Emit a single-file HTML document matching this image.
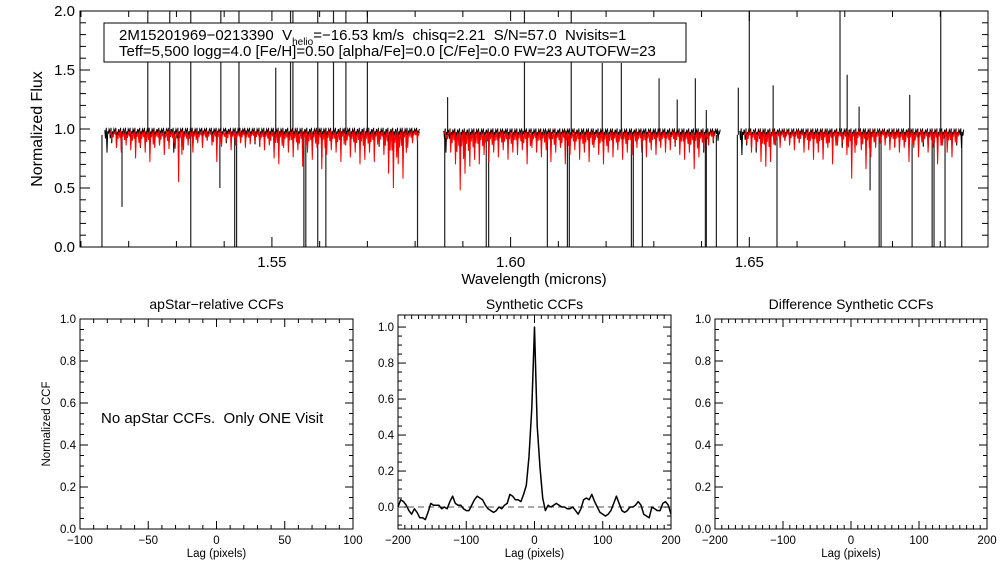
<!DOCTYPE html>
<html><head><meta charset="utf-8"><title>APOGEE spectrum and CCFs</title>
<style>
html,body{margin:0;padding:0;background:#fff;}
svg{display:block;font-family:"Liberation Sans",Arial,sans-serif;}
text{white-space:pre;}
</style></head>
<body>
<svg id="fig" width="1008" height="576" viewBox="0 0 1008 576" xmlns="http://www.w3.org/2000/svg" xml:space="preserve">
<rect x="0" y="0" width="1008" height="576" fill="#fff"/>
<g id="spec"></g>
<g id="p1"></g>
<g id="p2"></g>
<g id="p3"></g>
</svg>
<script>
// ---------- Spectrum data ----------
const chipStart = [1.515, 1.586, 1.648];
const chipHi = [1.00, 0.995, 0.995];
const redHi = [0.975, 0.97, 0.975];
const blackLo1 = [0.80,0.88,0.85,0.82,0.90,0.86,0.88,0.84,0.90,0.87,0.89,0.86,0.91,0.88,0.80,0.90,0.87,0.89,0.85,0.90,0.88,0.91,0.89,0.90,0.92,0.88,0.90,0.86,0.89,0.91,0.90,0.87,0.85,0.88,0.90,0.86,0.84,0.89,0.87,0.83,0.85,0.88,0.86,0.82,0.87,0.85,0.89,0.86,0.84,0.88,0.90,0.85,0.87,0.84,0.80,0.86,0.82,0.85,0.88,0.80,0.76,0.83,0.86,0.88,0.90,0.92];
const redLo1 = [null,0.90,0.84,0.80,0.86,0.82,0.75,0.85,0.80,0.72,0.84,0.86,0.78,0.83,0.88,0.55,0.82,0.86,0.80,0.88,0.84,0.90,0.86,0.72,0.85,0.90,0.82,0.86,0.88,0.84,0.87,0.89,0.85,0.82,0.86,0.75,0.70,0.84,0.80,0.76,0.82,0.68,0.80,0.74,0.84,0.66,0.78,0.82,0.80,0.72,0.86,0.76,0.80,0.70,0.74,0.80,0.72,0.86,0.78,0.62,0.50,0.70,0.58,0.84,0.88,0.90];
const blackLo2 = [0.80,0.86,0.82,0.75,0.80,0.84,0.86,0.88,0.84,0.87,0.89,0.86,0.88,0.90,0.87,0.85,0.89,0.90,0.86,0.88,0.84,0.87,0.90,0.88,0.85,0.88,0.90,0.86,0.88,0.84,0.87,0.85,0.88,0.86,0.84,0.88,0.86,0.83,0.87,0.85,0.88,0.86,0.90,0.88,0.86,0.89,0.87,0.88,0.85,0.87,0.84,0.86,0.82,0.84,0.80,0.86,0.88,0.90];
const redLo2 = [0.92,0.80,0.70,0.48,0.62,0.68,0.74,0.70,0.78,0.72,0.80,0.76,0.82,0.74,0.80,0.78,0.82,0.70,0.84,0.80,0.76,0.82,0.72,0.80,0.84,0.70,0.78,0.82,0.74,0.80,0.72,0.84,0.78,0.70,0.80,0.76,0.82,0.74,0.80,0.78,0.84,0.80,0.76,0.82,0.78,0.84,0.80,0.82,0.86,0.78,0.74,0.80,0.66,0.76,0.82,0.86,0.90,null];
const blackLo3 = [0.78,0.86,0.84,0.80,0.86,0.84,0.82,0.86,0.88,0.90,0.88,0.86,0.89,0.90,0.88,0.87,0.89,0.86,0.88,0.90,0.86,0.84,0.88,0.78,0.86,0.88,0.87,0.89,0.86,0.88,0.90,0.87,0.85,0.88,0.86,0.84,0.87,0.88,0.85,0.84,0.86,0.88,0.86,0.84,0.87,0.86,0.84];
const redLo3 = [null,0.88,0.80,0.84,0.72,0.68,0.72,0.86,0.84,0.90,0.86,0.82,0.88,0.80,0.82,0.74,0.80,0.74,0.84,0.70,0.86,0.88,0.78,0.58,0.86,0.82,0.66,0.76,0.84,0.88,0.86,0.82,0.84,0.80,0.84,0.72,0.84,0.76,0.88,0.80,0.84,0.70,0.86,0.80,0.76,0.88,null];
const spikeUpLam = [1.5240,1.5286,1.5330,1.5393,1.5431,1.5508,1.5539,1.5544,1.5596,1.5629,1.5655,1.5700,1.5868,1.6029,1.6127,1.6192,1.6232,1.6311,1.6349,1.6387,1.6410,1.6477,1.6500,1.6550,1.6690,1.6705,1.6730,1.6836,1.6901];
const spikeUpVal = [2,2,2,2,2,1.52,2,2,2,2,2,2,1.27,2,2,1.56,1.56,1.43,1.25,1.43,1.16,1.35,2,1.37,2,1.46,1.19,1.29,2];
const spikeDnLam = [1.5144,1.5186,1.5330,1.5391,1.5422,1.5426,1.5567,1.5571,1.5596,1.5613,1.5805,1.5862,1.5949,1.5954,1.6077,1.6119,1.6123,1.6253,1.6257,1.6276,1.6408,1.6410,1.6431,1.6475,1.6558,1.6753,1.6772,1.6776,1.6841,1.6883,1.6887,1.6910,1.6945];
const spikeDnVal = [0,0.34,0,0.5,0,0,0,0,0,0,0,0,0,0,0,0,0,0,0,0,0,0,0,0,0,0.48,0,0,0,0,0,0,0];
const specXTicks = [1.55,1.60,1.65];
const specXTickLabels = ["1.55","1.60","1.65"];
const specYTicks = [0,0.5,1.0,1.5,2.0];
const specYTickLabels = ["0.0","0.5","1.0","1.5","2.0"];

// ---------- CCF data ----------
const ccfLag = [-200,-196,-192,-188,-184,-180,-176,-172,-168,-164,-160,-156,-152,-148,-144,-140,-136,-132,-128,-124,-120,-116,-112,-108,-104,-100,-96,-92,-88,-84,-80,-76,-72,-68,-64,-60,-56,-52,-48,-44,-40,-36,-32,-28,-24,-20,-16,-12,-8,-4,0,4,8,12,16,20,24,28,32,36,40,44,48,52,56,60,64,68,72,76,80,84,88,92,96,100,104,108,112,116,120,124,128,132,136,140,144,148,152,156,160,164,168,172,176,180,184,188,192,196,200];
const ccfVal = [0.00,0.04,0.03,0.01,-0.02,-0.04,-0.01,-0.03,-0.06,-0.06,-0.07,-0.03,0.02,0.01,0.01,0.01,-0.01,0.00,-0.01,0.03,0.06,0.02,0.01,0.01,-0.01,-0.02,-0.02,0.01,0.04,0.06,0.05,0.04,0.01,-0.01,-0.02,-0.03,-0.02,0.00,-0.01,0.01,0.02,0.07,0.06,0.04,0.04,0.03,0.07,0.12,0.28,0.55,1.00,0.45,0.22,0.05,-0.02,0.01,0.00,0.01,0.02,0.01,0.00,0.00,-0.01,-0.01,0.00,-0.02,-0.04,-0.01,0.04,0.05,0.04,0.07,0.03,0.00,-0.03,-0.04,-0.05,-0.04,-0.02,0.02,0.06,0.02,-0.02,-0.03,-0.02,0.00,0.00,0.01,0.03,0.01,-0.04,-0.05,-0.06,0.00,-0.01,-0.02,-0.02,0.02,0.03,0.01,-0.04];
const ccfYTicks = [0,0.2,0.4,0.6,0.8,1.0];
const ccfYTickLabels = ["0.0","0.2","0.4","0.6","0.8","1.0"];
const lagTicks1 = [-100,-50,0,50,100];
const lagTicks2 = [-200,-100,0,100,200];

const NS = "http://www.w3.org/2000/svg";
function mk(parent, tag, attrs, text){
  const e = document.createElementNS(NS, tag);
  for (const k in attrs) e.setAttribute(k, attrs[k]);
  if (text !== undefined) e.textContent = text;
  parent.appendChild(e);
  return e;
}

// ---------- Spectrum panel ----------
const spec = document.getElementById('spec');
const SX0 = 80, SX1 = 988, SY0 = 247, SY1 = 11;
const L0 = 1.5098, L1 = 1.7000;
const sx = l => SX0 + (l - L0) / (L1 - L0) * (SX1 - SX0);
const sy = v => SY0 - (v / 2.0) * (SY0 - SY1);

const clip = mk(spec, 'clipPath', {id:'specclip'});
mk(clip, 'rect', {x:SX0, y:SY1, width:SX1-SX0, height:SY0-SY1});
const plotG = mk(spec, 'g', {'clip-path':'url(#specclip)'});

for (let i = 0; i < spikeUpLam.length; i++) {
  const ln = mk(plotG, 'line', {x1:sx(spikeUpLam[i]), x2:sx(spikeUpLam[i]), y1:sy(0.95), y2:sy(spikeUpVal[i]), stroke:'#222', 'stroke-width':1.2});
  
  
}
for (let i = 0; i < spikeDnLam.length; i++) {
  const ln = mk(plotG, 'line', {x1:sx(spikeDnLam[i]), x2:sx(spikeDnLam[i]), y1:sy(0.95), y2:sy(spikeDnVal[i]), stroke:'#222', 'stroke-width':1.2});
  
  
}

const blackChips = [blackLo1, blackLo2, blackLo3];
const redChips = [redLo1, redLo2, redLo3];
// zigzag through each bin; uses neighbouring bin minima to avoid a regular comb look
function bandPath(start, lo, hi){
  let d = '';
  const w = 0.001;
  for (let i = 0; i < lo.length; i++) {
    if (lo[i] === null) continue;
    const prev = (i > 0 && lo[i-1] !== null) ? lo[i-1] : lo[i];
    const next = (i < lo.length - 1 && lo[i+1] !== null) ? lo[i+1] : lo[i];
    const l = start + i * w;
    const pts = [
      [l, hi - 0.01],
      [l + w*0.15, (hi + prev) / 2 + 0.02],
      [l + w*0.3, hi + 0.01],
      [l + w*0.45, lo[i]],
      [l + w*0.6, hi - 0.02],
      [l + w*0.75, (hi*2 + next) / 3],
      [l + w*0.9, hi]
    ];
    for (let k = 0; k < pts.length; k++) {
      d += (d === '' ? 'M' : 'L') + sx(pts[k][0]).toFixed(1) + ',' + sy(pts[k][1]).toFixed(1);
    }
  }
  return d;
}
for (let c = 0; c < 3; c++) {
  const p = mk(plotG, 'path', {d: bandPath(chipStart[c], blackChips[c], chipHi[c]), fill:'none', stroke:'#000', 'stroke-width':1});
  
  
}
for (let c = 0; c < 3; c++) {
  const p = mk(plotG, 'path', {d: bandPath(chipStart[c], redChips[c], redHi[c]), fill:'none', stroke:'#f00', 'stroke-width':1});
  
  
}

function frame(g, x0, y0, x1, y1){
  const r = mk(g, 'rect', {x:x0, y:y1, width:x1-x0, height:y0-y1, fill:'none', stroke:'#000', 'stroke-width':1});
  
  
}
frame(spec, SX0, SY0, SX1, SY1);
for (let v = 0; v <= 2.0001; v += 0.1) {
  const major = Math.abs(v * 2 - Math.round(v * 2)) < 1e-6;
  const len = major ? 10 : 6;
  mk(spec, 'line', {x1:SX0, x2:SX0+len, y1:sy(v), y2:sy(v), stroke:'#000'});
  mk(spec, 'line', {x1:SX1, x2:SX1-len, y1:sy(v), y2:sy(v), stroke:'#000'});
}
for (let l = 1.51; l <= 1.7001; l += 0.01) {
  const major = specXTicks.some(t => Math.abs(t - l) < 1e-6);
  const len = major ? 10 : 6;
  mk(spec, 'line', {x1:sx(l), x2:sx(l), y1:SY0, y2:SY0-len, stroke:'#000'});
  mk(spec, 'line', {x1:sx(l), x2:sx(l), y1:SY1, y2:SY1+len, stroke:'#000'});
}
for (let i = 0; i < specYTicks.length; i++) {
  const t = mk(spec, 'text', {x:SX0-5, y:sy(specYTicks[i])+5, 'text-anchor':'end', 'font-size':15}, specYTickLabels[i]);
  
  
}
for (let i = 0; i < specXTicks.length; i++) {
  const t = mk(spec, 'text', {x:sx(specXTicks[i]), y:267, 'text-anchor':'middle', 'font-size':15}, specXTickLabels[i]);
  
  
}
let t = mk(spec, 'text', {x:534, y:284, 'text-anchor':'middle', 'font-size':15}, 'Wavelength (microns)');


t = mk(spec, 'text', {x:0, y:0, 'text-anchor':'middle', 'font-size':16, transform:'translate(42,129) rotate(-90)'}, 'Normalized Flux');



const box = mk(spec, 'g', {});


mk(box, 'rect', {x:104, y:23, width:582, height:39, fill:'#fff', stroke:'#000', 'stroke-width':1});
const l1 = mk(box, 'text', {x:119, y:40, 'font-size':15});
l1.innerHTML = '2M15201969\u22120213390  V<tspan font-size="10" dy="5">helio</tspan><tspan dy="-5">=\u221216.53 km/s  chisq=2.21  S/N=57.0  Nvisits=1</tspan>';


const l2 = mk(box, 'text', {x:119, y:56, 'font-size':15}, 'Teff=5,500 logg=4.0 [Fe/H]=0.50 [alpha/Fe]=0.0 [C/Fe]=0.0 FW=23 AUTOFW=23');



// ---------- CCF panels ----------
function ccfPanel(g, x0, x1, y0, y1, xmin, xmax, ymin, ymax, xticks, title, ylabel){
  const px = v => x0 + (v - xmin) / (xmax - xmin) * (x1 - x0);
  const py = v => y0 - (v - ymin) / (ymax - ymin) * (y0 - y1);
  frame(g, x0, y0, x1, y1);
  for (let v = xmin; v <= xmax + 1e-6; v += 10) {
    const major = xticks.indexOf(v) >= 0;
    const len = major ? 8 : 4;
    mk(g, 'line', {x1:px(v), x2:px(v), y1:y0, y2:y0-len, stroke:'#000'});
    mk(g, 'line', {x1:px(v), x2:px(v), y1:y1, y2:y1+len, stroke:'#000'});
  }
  for (let k = 0; k <= 20; k++) {
    const v = k * 0.05;
    if (v < ymin - 1e-6 || v > ymax + 1e-6) continue;
    const len = (k % 4 === 0) ? 8 : 4;
    mk(g, 'line', {x1:x0, x2:x0+len, y1:py(v), y2:py(v), stroke:'#000'});
    mk(g, 'line', {x1:x1, x2:x1-len, y1:py(v), y2:py(v), stroke:'#000'});
  }
  if (ymin < 0) {
    mk(g, 'line', {x1:x0, x2:x0+4, y1:py(-0.05), y2:py(-0.05), stroke:'#000'});
    mk(g, 'line', {x1:x1, x2:x1-4, y1:py(-0.05), y2:py(-0.05), stroke:'#000'});
    mk(g, 'line', {x1:x0, x2:x0+4, y1:py(-0.1), y2:py(-0.1), stroke:'#000'});
    mk(g, 'line', {x1:x1, x2:x1-4, y1:py(-0.1), y2:py(-0.1), stroke:'#000'});
  }
  for (let i = 0; i < ccfYTicks.length; i++) {
    const tt = mk(g, 'text', {x:x0-4, y:py(ccfYTicks[i])+4, 'text-anchor':'end', 'font-size':11.5}, ccfYTickLabels[i]);
    
    
  }
  for (let i = 0; i < xticks.length; i++) {
    const tt = mk(g, 'text', {x:px(xticks[i]), y:y0+15, 'text-anchor':'middle', 'font-size':11.5}, String(xticks[i]).replace('-', '\u2212'));
    
    
  }
  let tt = mk(g, 'text', {x:(x0+x1)/2, y:y0+28, 'text-anchor':'middle', 'font-size':11.5}, 'Lag (pixels)');
  
  
  tt = mk(g, 'text', {x:(x0+x1)/2, y:309, 'text-anchor':'middle', 'font-size':14}, title);
  
  
  if (ylabel) {
    tt = mk(g, 'text', {x:0, y:0, 'text-anchor':'middle', 'font-size':11.5, transform:'translate(50,424) rotate(-90)'}, ylabel);
    
    
  }
  return {px, py};
}

const p1 = document.getElementById('p1');
ccfPanel(p1, 80, 353, 529, 319, -100, 100, 0, 1.0, lagTicks1, 'apStar\u2212relative CCFs', 'Normalized CCF');
t = mk(p1, 'text', {x:101, y:423, 'font-size':15}, 'No apStar CCFs.  Only ONE Visit');



const p2 = document.getElementById('p2');
const ax2 = ccfPanel(p2, 398, 671, 529, 315, -200, 200, -0.122, 1.067, lagTicks2, 'Synthetic CCFs', null);
const zl = mk(p2, 'line', {x1:398, x2:671, y1:ax2.py(0), y2:ax2.py(0), stroke:'#555', 'stroke-dasharray':'6,4', 'stroke-width':1});


let d = '';
for (let i = 0; i < ccfLag.length; i++) {
  d += (i ? 'L' : 'M') + ax2.px(ccfLag[i]).toFixed(1) + ',' + ax2.py(ccfVal[i]).toFixed(1);
}
const cl = mk(p2, 'path', {d:d, fill:'none', stroke:'#000', 'stroke-width':1.5, 'stroke-linejoin':'round'});



const p3 = document.getElementById('p3');
ccfPanel(p3, 715, 987, 529, 319, -200, 200, 0, 1.0, lagTicks2, 'Difference Synthetic CCFs', null);
</script>
</body></html>
